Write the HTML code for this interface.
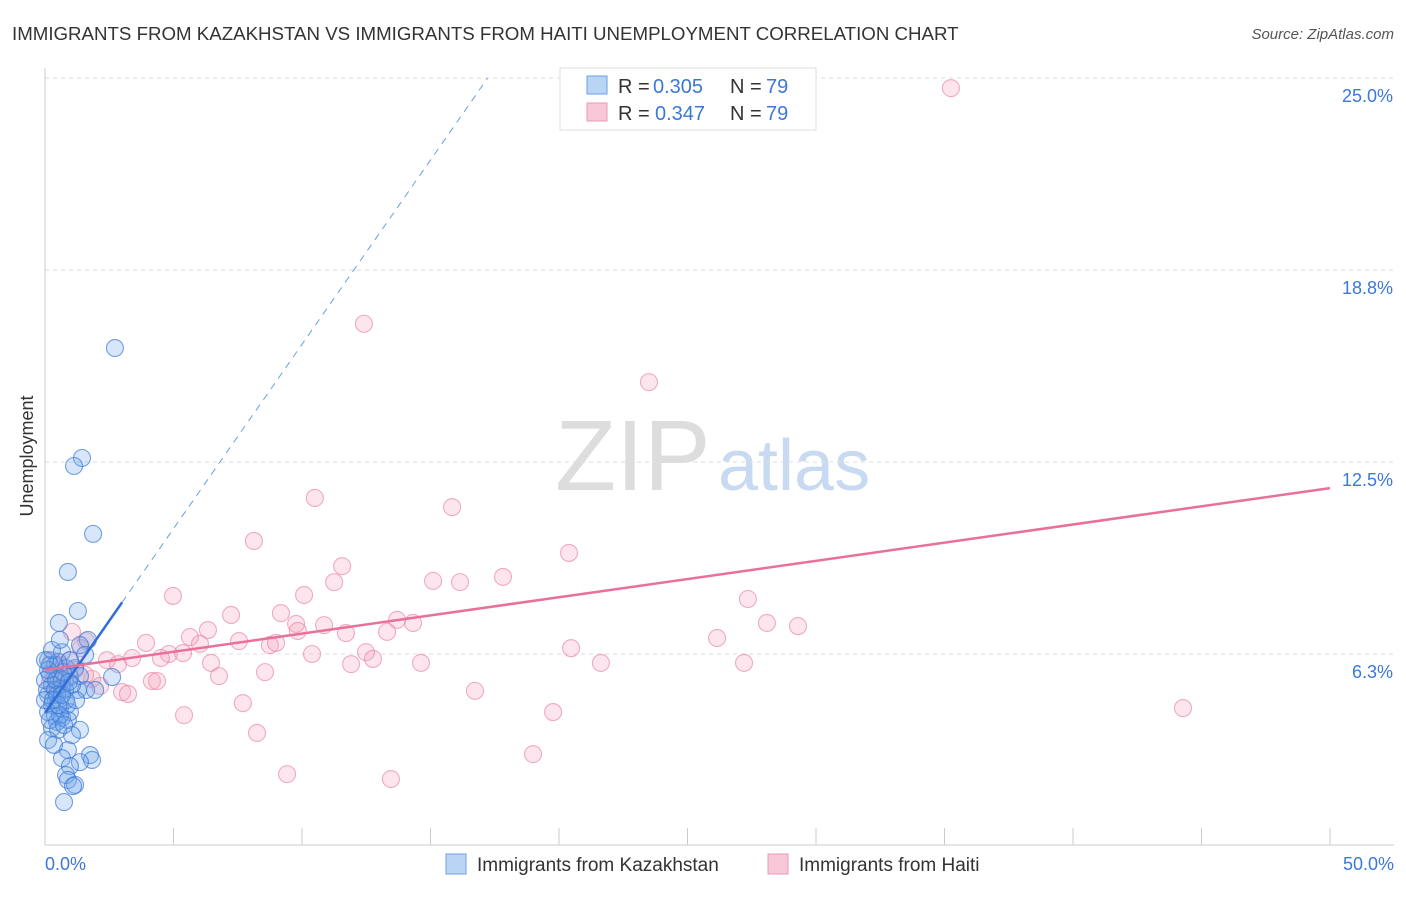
<!DOCTYPE html>
<html><head><meta charset="utf-8"><style>
body{margin:0;background:#fff;font-family:"Liberation Sans",sans-serif}
svg text{font-family:"Liberation Sans",sans-serif}
</style></head><body>
<svg id="chart" width="1406" height="892" xmlns="http://www.w3.org/2000/svg">
<text x="12" y="40" font-size="18.7" fill="#333">IMMIGRANTS FROM KAZAKHSTAN VS IMMIGRANTS FROM HAITI UNEMPLOYMENT CORRELATION CHART</text>
<text x="1394" y="39" font-size="15" fill="#555" text-anchor="end" font-style="italic">Source: ZipAtlas.com</text>
<text x="555" y="490" font-size="100" fill="#ddd" font-family="Liberation Serif">ZIP</text>
<text x="718" y="490" font-size="72" fill="#c8daf2">atlas</text>
<text transform="translate(33,456) rotate(-90)" font-size="18" fill="#333" text-anchor="middle">Unemployment</text>
<g id="grid"></g><g id="pts"></g><g id="lines"></g>
<g>
<rect x="560" y="68" width="256" height="62" fill="#fff" stroke="#ddd"/>
<rect x="587" y="76" width="20" height="18" fill="#b9d4f5" stroke="#6a9fe0"/>
<rect x="587" y="103" width="20" height="18" fill="#f9c8d8" stroke="#eb98b6"/>
<text x="618" y="93" font-size="20" fill="#333">R =</text>
<text x="653" y="93" font-size="20" fill="#3b78d8">0.305</text>
<text x="730" y="93" font-size="20" fill="#333">N =</text>
<text x="766" y="93" font-size="20" fill="#3b78d8">79</text>
<text x="618" y="120" font-size="20" fill="#333">R =</text>
<text x="655" y="120" font-size="20" fill="#3b78d8">0.347</text>
<text x="730" y="120" font-size="20" fill="#333">N =</text>
<text x="766" y="120" font-size="20" fill="#3b78d8">79</text>
</g>
<g>
<rect x="446" y="854" width="20" height="20" fill="#b9d4f5" stroke="#6a9fe0"/>
<text x="477" y="871" font-size="19" fill="#333">Immigrants from Kazakhstan</text>
<rect x="768" y="854" width="20" height="20" fill="#f9c8d8" stroke="#eb98b6"/>
<text x="799" y="871" font-size="19" fill="#333">Immigrants from Haiti</text>
</g>
</svg>
<script>
const yTicks=[25,18.75,12.5,6.25];
const yTickLabels=["25.0%","18.8%","12.5%","6.3%"];
const xTickLabels=["0.0%","50.0%"];
const blueX=[2.72,1.44,1.13,1.87,0.89,1.28,0.54,1.67,0.66,0.12,0.39,0.82,1.17,0.19,0.51,0.97,1.36,2.61,0.27,0.66,1.28,1.60,1.95,0.12,0.43,0.27,0.58,0.97,0.12,0.39,0.66,0.89,0.47,0.27,1.36,1.05,0.89,0.66,1.75,1.83,1.36,0.97,0.82,0.89,1.17,1.09,0.74,0,0.08,0.19,0.66,0.39,0.51,0.78,1.05,0.86,0.58,0.19,0,0.43,0.70,0.12,0.97,1.36,1.56,0.47,0.31,0.82,0.51,1.21,0,0.27,0.58,0.74,0.12,0.35,0.51,0.66,0.93];
const blueY=[16.21,12.63,12.37,10.16,8.92,7.65,7.26,6.71,6.31,6.05,5.89,5.79,5.79,5.57,5.50,5.50,5.53,5.50,5.24,5.14,5.08,5.08,5.08,4.92,4.75,4.59,4.49,4.36,4.36,4.23,4.17,4.10,4.04,3.84,3.78,3.61,3.12,2.86,2.96,2.80,2.73,2.60,2.31,2.15,1.99,1.95,1.43,5.40,5.08,5.89,5.40,5.08,5.99,5.08,5.24,4.59,4.26,4.10,4.75,5.40,5.66,5.73,6.05,6.54,6.22,4.92,4.75,4.75,3.78,4.75,6.05,6.38,6.71,3.94,3.45,3.29,4.59,4.92,5.34];
const pinkX=[35.25,12.41,23.5,10.5,15.84,8.13,20.39,11.56,17.82,15.1,16.15,11.25,4.98,10.08,27.35,7.24,9.18,28.09,29.3,9.77,10.86,14.32,13.7,13.31,6.34,11.71,1.05,9.84,5.64,1.60,3.93,6.03,7.55,8.75,8.99,26.15,20.47,1.40,12.49,10.39,4.82,5.37,3.39,4.51,2.41,2.84,6.46,11.91,12.76,14.63,21.63,27.2,8.56,6.77,4.16,4.36,1.83,2.14,3.0,3.23,16.73,7.70,5.41,19.77,44.28,8.25,18.99,9.42,13.46,0.58,0.39,0.78,0.19,1.17,0.51,0.97,0.66,0.27,1.56];
const pinkY=[24.67,17.0,15.1,11.33,11.03,9.93,9.54,9.11,8.76,8.63,8.59,8.59,8.14,8.17,8.04,7.52,7.58,7.26,7.16,7.23,7.19,7.26,7.36,6.97,7.03,6.93,6.97,7.0,6.80,6.67,6.61,6.58,6.67,6.54,6.61,6.77,6.44,6.44,6.31,6.25,6.25,6.28,6.12,6.12,6.05,5.92,5.96,5.92,6.09,5.96,5.96,5.96,5.66,5.53,5.37,5.37,5.44,5.21,5.01,4.95,5.05,4.65,4.26,4.36,4.49,3.68,2.99,2.34,2.18,5.89,5.57,5.40,5.31,5.73,5.08,6.05,5.73,6.05,5.57];
const blueTrend=[4.33,1.2];
const pinkTrend=[5.73,0.1184];
const NS="http://www.w3.org/2000/svg";
const X0=45,X1=1330,Y0=846,PPY=30.72;
const sx=v=>X0+v/50*(X1-X0);
const sy=v=>Y0-v*PPY;
function mk(tag,attrs,parent){const e=document.createElementNS(NS,tag);for(const k in attrs)e.setAttribute(k,attrs[k]);document.getElementById(parent).appendChild(e);return e;}
yTicks.forEach((t,i)=>{
 const g=mk('line',{x1:X0,x2:1394,y1:sy(t),y2:sy(t),stroke:'#ddd','stroke-dasharray':'4,4'},'grid');
 
 
 const l=mk('text',{x:1393,y:sy(t)+24,'font-size':18,fill:'#3b78d8','text-anchor':'end'},'grid');
 l.textContent=yTickLabels[i];
 
 
});
const ax=mk('line',{x1:X0,x2:1394,y1:845,y2:845,stroke:'#ccc'},'grid');


const ay=mk('line',{x1:X0,x2:X0,y1:68,y2:845,stroke:'#ccc'},'grid');


for(let i=0;i<=10;i++){
 const t=mk('line',{x1:sx(i*5),x2:sx(i*5),y1:828,y2:845,stroke:'#ccc'},'grid');
 
 
}
xTickLabels.forEach((s,i)=>{
 const t=mk('text',{x:i?1394:45,y:870,'font-size':18,fill:'#3b78d8','text-anchor':i?'end':'start'},'grid');
 t.textContent=s;
 
 
});
pinkX.forEach((x,i)=>{
 const c=mk('circle',{cx:sx(x),cy:sy(pinkY[i]),r:8.5,fill:'rgba(244,160,188,0.28)',stroke:'rgba(232,130,165,0.65)','stroke-width':1.1},'pts');
 
 
});
blueX.forEach((x,i)=>{
 const c=mk('circle',{cx:sx(x),cy:sy(blueY[i]),r:8.5,fill:'rgba(110,165,235,0.28)',stroke:'rgba(60,120,215,0.7)','stroke-width':1.1},'pts');
 
 
});
const bEnd=(25-blueTrend[0])/blueTrend[1];
const d=mk('line',{x1:sx(3),y1:sy(blueTrend[0]+3*blueTrend[1]),x2:sx(bEnd),y2:sy(25),stroke:'#6a9fe0','stroke-dasharray':'7,6','stroke-width':1},'lines');


const b=mk('line',{x1:sx(0),y1:sy(blueTrend[0]),x2:sx(3),y2:sy(blueTrend[0]+3*blueTrend[1]),stroke:'#2f6fd6','stroke-width':2.5},'lines');


const p=mk('line',{x1:sx(0),y1:sy(pinkTrend[0]),x2:sx(50),y2:sy(pinkTrend[0]+50*pinkTrend[1]),stroke:'#e8709a','stroke-width':2.5},'lines');


</script>
</body></html>
